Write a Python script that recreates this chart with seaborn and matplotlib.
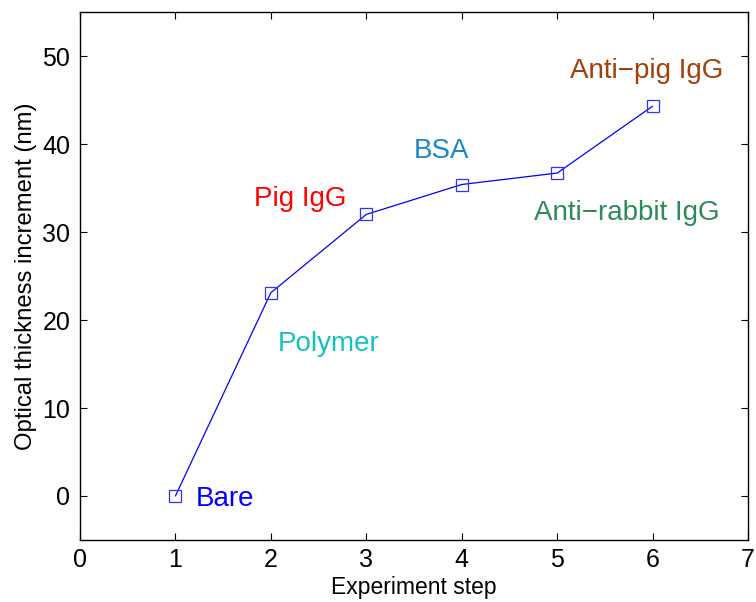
import matplotlib
matplotlib.use("Agg")
import matplotlib.pyplot as plt
import seaborn as sns
import pandas as pd

steps = [1, 2, 3, 4, 5, 6]
thickness = [0.0, 23.1, 32.0, 35.4, 36.7, 44.3]

labels = ["Bare", "Polymer", "Pig IgG", "BSA", "Anti\u2212rabbit IgG", "Anti\u2212pig IgG"]
label_x = [1.21, 2.07, 1.82, 3.5, 4.76, 5.14]
label_y = [-0.3, 17.3, 33.7, 39.2, 32.2, 48.3]
label_colors = ["#0000ff", "#14c0c0", "#ff0000", "#1a88c8", "#2e8b57", "#a0400a"]

sns.set_style("white")
plt.rcParams['font.family'] = ['Liberation Sans', 'DejaVu Sans']

fig = plt.figure(figsize=(7.56, 6.02), dpi=100)
ax = fig.add_axes([0.1058, 0.103, 0.8836, 0.877])

df = pd.DataFrame({"step": steps, "thickness": thickness})
sns.lineplot(data=df, x="step", y="thickness", ax=ax, color="#0000ff",
             linewidth=0.9, marker="s", markersize=8,
             markerfacecolor="none", markeredgecolor="#3030ff", markeredgewidth=0.9)

for t, x, y, c in zip(labels, label_x, label_y, label_colors):
    ax.text(x, y, t, color=c, fontsize=20, ha="left", va="center")

ax.set_xlim(0, 7)
ax.set_ylim(-5, 55)
ax.set_xticks(range(0, 8))
ax.set_yticks([0, 10, 20, 30, 40, 50])
ax.set_xlabel("Experiment step", fontsize=16.5, labelpad=3, color="black")
ax.set_ylabel("Optical thickness increment (nm)", fontsize=17.2, labelpad=4, color="black")
ax.tick_params(direction="in", length=5, width=0.8, labelsize=18, colors="black",
               top=True, right=True, bottom=True, left=True)
ax.tick_params(axis="x", pad=6)
ax.tick_params(axis="y", pad=7)
for s in ax.spines.values():
    s.set_visible(True)
    s.set_color("black")
    s.set_linewidth(1.0)

fig.savefig("out.png", dpi=100)
